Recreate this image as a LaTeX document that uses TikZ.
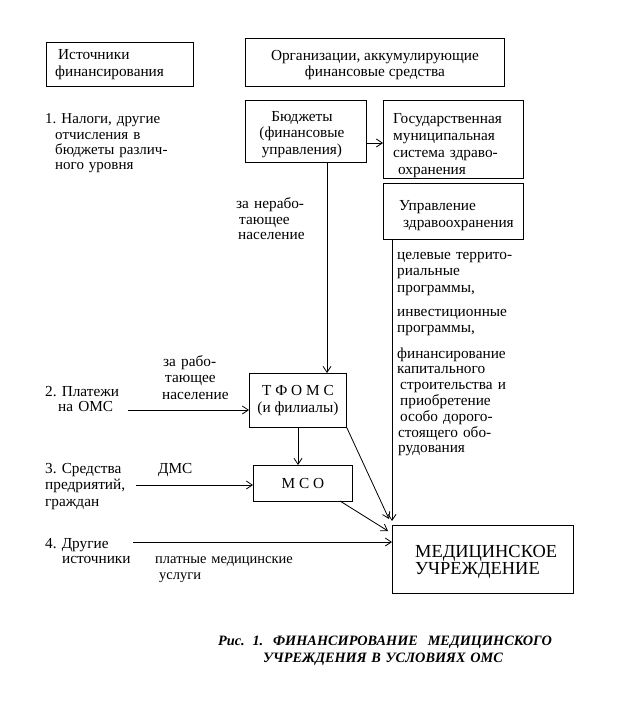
\documentclass[tikz,border=0pt]{standalone}
\usepackage{fontspec}
\setmainfont{Liberation Serif}
\usetikzlibrary{arrows.meta}
\frenchspacing
\newcommand\bodyfs{\fontsize{15.3}{16.5}\selectfont}
\begin{document}
\begin{tikzpicture}[x=1pt,y=-1pt,
  box/.style={draw, line width=0.9pt, rectangle, anchor=north west, inner sep=0pt},
  txt/.style={anchor=base west, inner sep=0pt, text width=240pt, align=left, font=\bodyfs},
  ctxt/.style={anchor=center, inner sep=0pt, align=center, font=\bodyfs},
  arr/.style={line width=0.8pt, -{Straight Barb[length=6pt,width=8pt]}},
]
\useasboundingbox (0,0) rectangle (632,703);
% boxes
\node[box, minimum width=147pt, minimum height=44pt] (src) at (46,42) {};
\node[box, minimum width=259pt, minimum height=48pt] (org) at (245,38) {};
\node[box, minimum width=121pt, minimum height=62pt] (bud) at (245,100) {};
\node[box, minimum width=140pt, minimum height=78pt] (gos) at (383,100) {};
\node[box, minimum width=140pt, minimum height=56pt] (upr) at (383,183) {};
\node[box, minimum width=97pt, minimum height=54pt] (tfoms) at (249,373) {};
\node[box, minimum width=99pt, minimum height=36pt] (mso) at (253,465) {};
\node[box, minimum width=181pt, minimum height=68pt] (med) at (392,525) {};
% box texts
\node[txt] (srcT) at (55,60) {\hspace*{3pt}Источники\\финансирования};
\node[ctxt] (orgT) at ([yshift=-2.5pt]org.center) {Организации, аккумулирующие\\финансовые средства};
\node[ctxt] (budT) at ([xshift=-4pt,yshift=-3pt]bud.center) {Бюджеты\\(финансовые\\управления)};
\node[txt, font=\fontsize{15.3}{16.7}\selectfont] (gosT) at (393,124) {Государственная\\муниципальная\\система здраво-\\\hspace*{5pt}охранения};
\node[txt] (uprT) at (399,211) {Управление\\\hspace*{4pt}здравоохранения};
\node[ctxt] (tfomsT) at (tfoms.center) {Т Ф О М С\\(и филиалы)};
\node[ctxt] (msoT) at (mso.center) {М С О};
\node[txt, font=\fontsize{18.4}{17.5}\selectfont] (medT) at (415,557) {МЕДИЦИНСКОЕ\\УЧРЕЖДЕНИЕ};
% free texts
\node[txt, font=\fontsize{15}{15.2}\selectfont] (n1) at (45,124) {1. Налоги, другие\\\hspace*{10pt}отчисления в\\\hspace*{10pt}бюджеты различ-\\\hspace*{10pt}ного уровня};
\node[txt, font=\fontsize{15.3}{15.2}\selectfont] (nerab) at (236,209) {за нерабо-\\\hspace*{3pt}тающее\\\hspace*{2pt}население};
\node[txt] (list1) at (397,259) {целевые террито-\\риальные\\программы,};
\node[txt] (list2) at (397,316) {инвестиционные\\программы,};
\node[txt, font=\fontsize{15.3}{15.8}\selectfont] (list3) at (397,358) {финансирование\\капитального\\\hspace*{3pt}строительства и\\\hspace*{3pt}приобретение\\\hspace*{3pt}особо дорого-\\\hspace*{1pt}стоящего обо-\\\hspace*{1pt}рудования};
\node[txt] (rab) at (162,366) {\hspace*{1pt}за рабо-\\\hspace*{3pt}тающее\\население};
\node[txt, font=\fontsize{15.3}{15.2}\selectfont] (p2) at (45,396) {2. Платежи\\\hspace*{13pt}на ОМС};
\node[txt, font=\fontsize{15.3}{16.5}\selectfont] (p3) at (45,473) {3. Средства\\предриятий,\\граждан};
\node[txt] (dms) at (158,473) {ДМС};
\node[txt, font=\fontsize{15.3}{15.2}\selectfont] (p4) at (45,548) {4. Другие\\\hspace*{17pt}источники};
\node[txt, font=\fontsize{14.5}{16}\selectfont] (plat) at (155,563) {платные медицинские\\\hspace*{4pt}услуги};
\node[txt, text width=420pt, font=\bfseries\itshape\fontsize{14.3}{17}\selectfont] (cap) at (218,645) {Рис.\hspace{3pt} 1.\hspace{5pt} ФИНАНСИРОВАНИЕ\hspace{5pt} МЕДИЦИНСКОГО\\\hspace*{45pt}УЧРЕЖДЕНИЯ В УСЛОВИЯХ ОМС};
% helper coordinates
\coordinate (xb) at (327,0);
\coordinate (yb) at (0,143);
\coordinate (xu) at (392,0);
\coordinate (xt) at (298,0);
\coordinate (s2) at (128,410);
\coordinate (s3) at (136,485);
\coordinate (s4) at (133,542);
\coordinate (msoOut) at (340,501);
\coordinate (e1) at (389,519);
\coordinate (e2) at (388,531);
\coordinate (e3) at (392,521);
% connectors
\draw[arr] (bud.south -| xb) -- (tfoms.north -| xb);
\draw[arr] (bud.east |- yb) -- (gos.west |- yb);
\draw[arr] (upr.south -| xu) -- (e3);
\draw[arr] (tfoms.south -| xt) -- (mso.north -| xt);
\draw[arr] (tfoms.south east) -- (e1);
\draw[arr] (msoOut) -- (e2);
\draw[arr] (s2) -- (tfoms.west |- s2);
\draw[arr] (s3) -- (mso.west |- s3);
\draw[arr] (s4) -- (med.west |- s4);
\end{tikzpicture}
\end{document}
